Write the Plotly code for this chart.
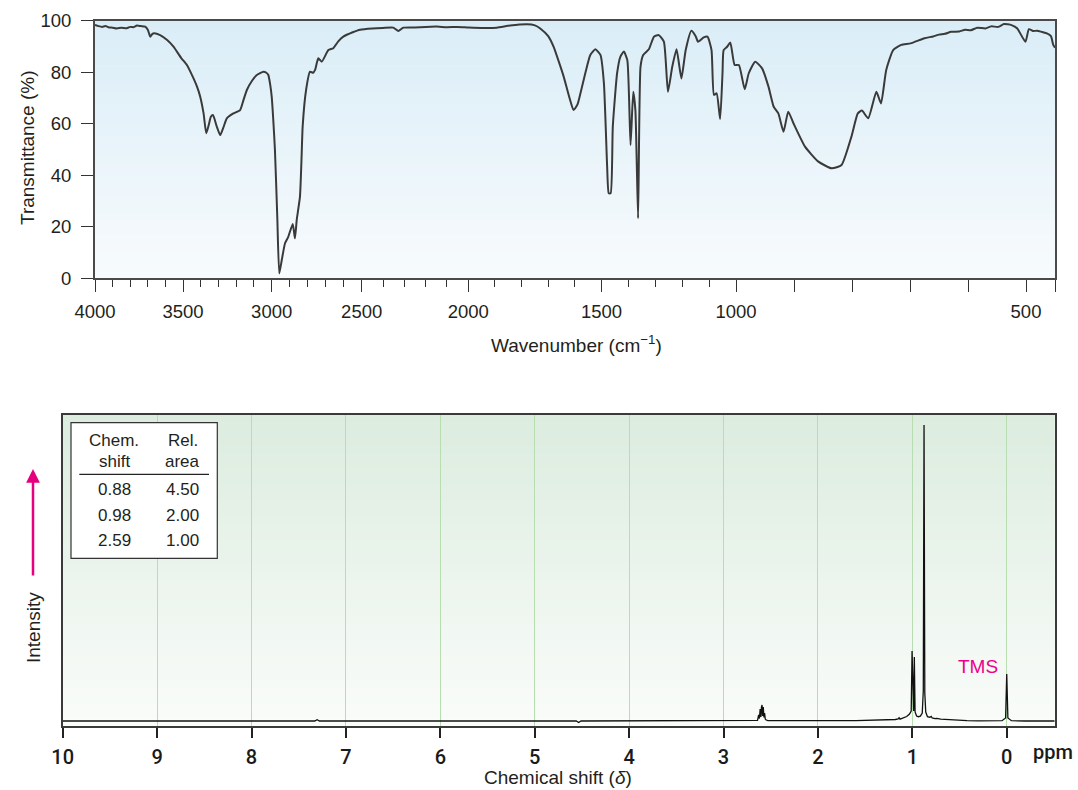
import numpy as np
import plotly.graph_objects as go

W, H = 1078, 790

# ---------------- IR spectrum (wavenumber cm^-1, transmittance %) ----------------
ir_wavenumber = [
    4000, 3980, 3960, 3940, 3920, 3900, 3876, 3850, 3820, 3800, 3780, 3762, 3740, 3715, 3700,
    3686, 3675, 3664, 3630, 3590, 3554, 3510, 3478, 3440, 3421, 3403, 3384, 3369, 3355, 3343,
    3331, 3310, 3290, 3270, 3253, 3216, 3178, 3160, 3140, 3110, 3084, 3047, 3030, 3019, 3008,
    3000, 2990, 2982, 2969, 2958, 2944, 2926, 2908, 2883, 2871, 2861, 2843, 2835, 2828, 2809,
    2787, 2770, 2759, 2741, 2722, 2685, 2658, 2630, 2602, 2550, 2509, 2450, 2400, 2352, 2328,
    2305, 2250, 2200, 2148, 2100, 2050, 2000, 1940, 1893, 1843, 1780, 1750, 1730, 1700, 1680,
    1660, 1642, 1620, 1605, 1590, 1579, 1560, 1542, 1523, 1504, 1491, 1479, 1473, 1466, 1458,
    1442, 1430, 1417, 1404, 1392, 1382, 1374, 1364, 1355, 1345, 1324, 1305, 1287, 1268, 1253,
    1237, 1221, 1203, 1187, 1166, 1150, 1141, 1120, 1106, 1091, 1082, 1072, 1059, 1050, 1046,
    1033, 1021, 1005, 995, 985, 978, 967, 955, 944, 935, 927, 918, 910, 901, 881,
    858, 835, 818, 801, 790, 783, 772, 758, 750, 741, 729, 715, 699, 675, 660,
    650, 640, 629, 615, 605, 595, 584, 570, 560, 548, 538, 525, 515, 501, 495,
    488, 481, 472, 464, 457, 453, 450,
]
ir_transmittance = [
    98.3, 97.9, 97.6, 97.9, 97.4, 97.3, 97.0, 97.3, 97.1, 97.6, 97.5, 98.1, 97.9, 97.7, 96.5,
    93.8, 94.8, 95.1, 94.4, 92.5, 89.9, 85.5, 82.8, 77.5, 74.4, 70.5, 64.0, 56.3, 59.5, 62.7,
    63.4, 59.0, 55.6, 59.0, 62.1, 64.0, 65.3, 69.0, 73.1, 76.8, 78.9, 80.2, 79.8, 78.9, 75.0,
    70.5, 60.0, 49.8, 23.9, 1.9, 7.1, 13.6, 16.1, 21.1, 15.5, 22.6, 31.7, 45.0, 58.9, 73.1,
    80.2, 79.8, 80.9, 85.4, 84.1, 88.6, 89.3, 92.0, 93.8, 95.5, 96.5, 97.0, 97.2, 97.3, 96.0,
    97.3, 97.4, 97.6, 97.7, 97.5, 97.6, 97.4, 97.2, 97.3, 98.1, 98.6, 98.2, 97.0, 94.0, 89.9,
    84.0, 78.3, 70.0, 65.3, 67.5, 71.8, 80.0, 86.7, 88.9, 86.7, 75.7, 43.3, 33.0, 33.0, 58.9,
    79.6, 86.0, 88.0, 84.7, 51.7, 72.4, 65.3, 23.3, 82.1, 86.7, 88.9, 93.8, 94.4, 91.8, 72.4,
    82.1, 88.9, 77.6, 88.6, 96.1, 94.0, 91.8, 93.5, 93.8, 88.6, 71.2, 71.8, 61.8, 80.0, 88.6,
    89.9, 91.5, 82.8, 82.8, 73.4, 79.6, 84.1, 81.5, 74.4, 66.6, 64.0, 56.9, 64.7, 60.2, 51.1,
    45.3, 42.7, 44.0, 55.0, 64.0, 65.1, 62.1, 72.4, 67.9, 80.9, 88.6, 90.6, 91.2, 93.2, 93.9,
    94.6, 94.9, 95.7, 95.8, 96.5, 96.3, 97.3, 97.0, 97.8, 97.6, 98.7, 98.3, 97.0, 91.8, 96.7,
    96.0, 96.1, 95.6, 95.1, 94.0, 90.6, 89.5,
]

# axis tick values (cm^-1)
ir_major_wn = [4000, 3500, 3000, 2500, 2000, 1500, 1000, 900, 800, 700, 600, 500, 450]
ir_major_text = ["4000", "3500", "3000", "2500", "2000", "1500", "1000", "", "", "", "", "500", ""]
ir_minor_wn = [3900, 3800, 3700, 3600, 3400, 3300, 3200, 3100, 2900, 2800, 2700, 2600,
               2400, 2300, 2200, 2100, 1900, 1800, 1700, 1600, 1400, 1300, 1200, 1100]
ir_y_ticks = [0, 20, 40, 60, 80, 100]

# piecewise-linear wavenumber scale of the printed chart (axis definition)
scale_wn = [4000, 3500, 3000, 2500, 2000, 1500, 1000, 500, 450]
scale_pos = [0, 88, 176.7, 266.7, 373.3, 506.5, 641, 931, 960]


def wn_axis(w):
    return np.interp(-np.asarray(w, dtype=float), -np.asarray(scale_wn, float), scale_pos)


# ---------------- 1H NMR spectrum (ppm, intensity) ----------------
nmr_ppm = [
    10.0, 7.33, 7.305, 7.28, 4.56, 4.535, 4.51, 2.66, 2.64, 2.628, 2.62, 2.612, 2.604, 2.598,
    2.592, 2.586, 2.579, 2.572, 2.565, 2.558, 2.548, 2.53, 2.40, 2.0, 1.60, 1.30, 1.18, 1.15,
    1.14, 1.13, 1.10, 1.06, 1.03, 1.012, 1.003, 0.994, 0.986, 0.979, 0.971, 0.955, 0.936,
    0.915, 0.895, 0.884, 0.876, 0.868, 0.858, 0.84, 0.815, 0.80, 0.79, 0.76, 0.74, 0.70,
    0.65, 0.60, 0.50, 0.42, 0.30, 0.15, 0.05, 0.012, 0.0, -0.012, -0.05, -0.20, -0.508,
]
nmr_intensity = [
    0.0, 0.0, 1.3, 0.0, 0.0, -1.5, 0.0, 0.0, 0.6, 6.0, 2.5, 12.0, 4.0, 14.0,
    16.0, 5.0, 14.0, 3.5, 8.0, 2.0, 1.0, 0.3, 0.2, 0.3, 0.4, 0.8, 1.5, 2.2,
    3.2, 1.8, 2.7, 4.5, 7.0, 10.0, 70.0, 14.0, 10.0, 64.0, 9.0, 5.0, 4.3,
    4.8, 8.0, 30.0, 296.0, 28.0, 9.0, 4.3, 3.8, 4.6, 3.0, 2.4, 2.6, 1.9,
    1.5, 1.2, 0.7, 0.3, 0.2, 0.1, 0.3, 3.0, 47.0, 3.0, 0.3, 0.0, 0.0,
]
nmr_ticks = [10, 9, 8, 7, 6, 5, 4, 3, 2, 1, 0]

table_header_1 = ["Chem.", "shift"]
table_header_2 = ["Rel.", "area"]
table_shift = ["0.88", "0.98", "2.59"]
table_area = ["4.50", "2.00", "1.00"]

# ---------------- helpers for layout positions (pixels -> paper) ----------------
def PX(x):
    return x / W


def PY(y):
    return 1 - y / H


TXT = "#231f20"
FONT = "Liberation Sans, Arial, Helvetica, sans-serif"
NUMFONT = "Roboto, Liberation Sans, Arial"

fig = go.Figure()

fig.add_trace(go.Scatter(
    x=wn_axis(ir_wavenumber), y=ir_transmittance, mode="lines",
    line=dict(color="#3a3a3a", width=2.0, shape="spline", smoothing=0.5),
    xaxis="x", yaxis="y", hoverinfo="skip", showlegend=False,
))
fig.add_trace(go.Scatter(
    x=nmr_ppm, y=nmr_intensity, mode="lines",
    line=dict(color="#111111", width=1.3),
    xaxis="x2", yaxis="y2", hoverinfo="skip", showlegend=False,
))

ir_xdom = [PX(95), PX(1055)]
ir_ydom = [PY(278.3), PY(20.7)]
nmr_xdom = [PX(62.7), PX(1054.7)]
nmr_ydom = [PY(726), PY(415)]

fig.update_layout(
    template="none",
    width=W, height=H, autosize=False,
    margin=dict(l=0, r=0, t=0, b=0, pad=0),
    paper_bgcolor="white", plot_bgcolor="rgba(0,0,0,0)",
    font=dict(family=FONT, color=TXT, size=18),
    showlegend=False,
    xaxis=dict(
        domain=ir_xdom, anchor="y", range=[0, 960], automargin=False,
        tickmode="array", tickvals=list(wn_axis(ir_major_wn)), ticktext=ir_major_text,
        ticks="outside", ticklen=12, tickwidth=1.4, tickcolor="#333",
        minor=dict(tickmode="array", tickvals=list(wn_axis(ir_minor_wn)),
                   ticks="outside", ticklen=7, tickwidth=1.4, tickcolor="#333", showgrid=False),
        showline=True, linecolor="#4a4a4a", linewidth=1.8, mirror=True,
        showgrid=False, zeroline=False,
        tickfont=dict(size=18.5, color=TXT), ticklabelstandoff=4,
    ),
    yaxis=dict(
        domain=ir_ydom, anchor="x", range=[0, 100], automargin=False,
        tickmode="array", tickvals=ir_y_ticks,
        ticks="outside", ticklen=12, tickwidth=1.4, tickcolor="#333",
        showline=True, linecolor="#4a4a4a", linewidth=1.8, mirror=True,
        showgrid=False, zeroline=False,
        tickfont=dict(size=18.5, color=TXT), ticklabelstandoff=6,
    ),
    xaxis2=dict(
        domain=nmr_xdom, anchor="y2", range=[10, -0.508], automargin=False,
        tickmode="array", tickvals=nmr_ticks, ticktext=[str(t) for t in nmr_ticks],
        ticks="outside", ticklen=10, tickwidth=1.6, tickcolor="#222",
        showline=True, linecolor="#3a3a3a", linewidth=1.8, mirror=True,
        showgrid=True, gridcolor="#b7ddb0", gridwidth=1.2, zeroline=False,
        tickfont=dict(size=20, color="#1a1a1a", family=NUMFONT, weight=500),
        ticklabelstandoff=2,
    ),
    yaxis2=dict(
        domain=nmr_ydom, anchor="x2", range=[-5, 306], automargin=False,
        showticklabels=False, ticks="",
        showline=True, linecolor="#3a3a3a", linewidth=1.8, mirror=True,
        showgrid=False, zeroline=False,
    ),
)

# ---- gradient backgrounds ----
shapes = []
N = 40
for i in range(N):
    t0, t1 = i / N, (i + 1) / N
    tm = (t0 + t1) / 2  # 0 = bottom, 1 = top
    r = 248 - (248 - 218) * tm
    g = 251 - (251 - 237) * tm
    b = 253 - (253 - 247) * tm
    shapes.append(dict(type="rect", xref="x domain", yref="y domain",
                       x0=0, x1=1, y0=t0, y1=min(1, t1 + 0.002),
                       fillcolor=f"rgb({r:.0f},{g:.0f},{b:.0f})", line=dict(width=0), layer="below"))
    r = 250 - (250 - 220) * tm
    g = 252 - (252 - 236) * tm
    b = 250 - (250 - 223) * tm
    shapes.append(dict(type="rect", xref="x2 domain", yref="y2 domain",
                       x0=0, x1=1, y0=t0, y1=min(1, t1 + 0.002),
                       fillcolor=f"rgb({r:.0f},{g:.0f},{b:.0f})", line=dict(width=0), layer="below"))

# table box
shapes.append(dict(type="rect", xref="paper", yref="paper",
                   x0=PX(71), x1=PX(217.3), y0=PY(558.3), y1=PY(422.7),
                   fillcolor="white", line=dict(color="#333", width=1.2), layer="above"))
shapes.append(dict(type="line", xref="paper", yref="paper",
                   x0=PX(79.3), x1=PX(209), y0=PY(474.3), y1=PY(474.3),
                   line=dict(color="#222", width=1.2), layer="above"))
fig.update_layout(shapes=shapes)

ann = []
ann.append(dict(text="Transmittance (%)", x=PX(27), y=PY(148), xref="paper", yref="paper",
                showarrow=False, textangle=-90, font=dict(size=19, color=TXT),
                xanchor="center", yanchor="middle"))
ann.append(dict(text="Wavenumber (cm<sup>\u22121</sup>)", x=PX(576), y=PY(344), xref="paper", yref="paper",
                showarrow=False, font=dict(size=19, color=TXT), xanchor="center", yanchor="middle"))
ann.append(dict(text="Chemical shift (<i>\u03b4</i>)", x=PX(558), y=PY(777), xref="paper", yref="paper",
                showarrow=False, font=dict(size=19, color=TXT), xanchor="center", yanchor="middle"))
ann.append(dict(text="ppm", x=PX(1053), y=PY(752), xref="paper", yref="paper",
                showarrow=False, font=dict(size=20, color="#1a1a1a", family=NUMFONT, weight=500),
                xanchor="center", yanchor="middle"))
ann.append(dict(text="Intensity", x=PX(33), y=PY(628), xref="paper", yref="paper",
                showarrow=False, textangle=-90, font=dict(size=19, color=TXT),
                xanchor="center", yanchor="middle"))
ann.append(dict(text="", x=PX(33), y=PY(469), xref="paper", yref="paper",
                showarrow=True, ax=0, ay=108, axref="pixel", ayref="pixel",
                arrowcolor="#e6007e", arrowwidth=2.5, arrowhead=2, arrowsize=1.1))
ann.append(dict(text="TMS", x=PX(978), y=PY(666), xref="paper", yref="paper",
                showarrow=False, font=dict(size=19, color="#ec008c"),
                xanchor="center", yanchor="middle"))
for i, t in enumerate(table_header_1):
    ann.append(dict(text=t, x=PX(114.3), y=PY(440 + 21 * i), xref="paper", yref="paper",
                    showarrow=False, font=dict(size=17, color=TXT), xanchor="center", yanchor="middle"))
for i, t in enumerate(table_header_2):
    ann.append(dict(text=t, x=PX(182.7), y=PY(440 + 21 * i), xref="paper", yref="paper",
                    showarrow=False, font=dict(size=17, color=TXT), xanchor="center", yanchor="middle"))
for i, (s, a) in enumerate(zip(table_shift, table_area)):
    yy = PY(489.5 + 25.7 * i)
    ann.append(dict(text=s, x=PX(114.3), y=yy, xref="paper", yref="paper",
                    showarrow=False, font=dict(size=17, color=TXT), xanchor="center", yanchor="middle"))
    ann.append(dict(text=a, x=PX(182.7), y=yy, xref="paper", yref="paper",
                    showarrow=False, font=dict(size=17, color=TXT), xanchor="center", yanchor="middle"))
fig.update_layout(annotations=ann)

# remove the default page margin so the figure sits at the window's top-left corner
fig.write_html(
    "out.html",
    config={"displayModeBar": False},
    post_script="document.body.style.margin='0';document.body.style.overflow='hidden';",
)
